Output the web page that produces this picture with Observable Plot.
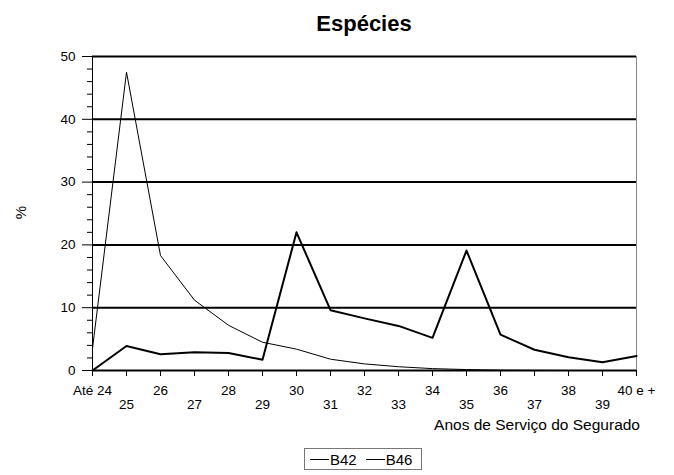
<!DOCTYPE html>
<html>
<head>
<meta charset="utf-8">
<script src="https://cdn.jsdelivr.net/npm/d3@7"></script>
<script src="https://cdn.jsdelivr.net/npm/@observablehq/plot@0.6"></script>
<style>
  html, body { margin: 0; padding: 0; background: #fff; }
  #wrap { position: relative; width: 674px; height: 475px; font-family: "Liberation Sans", Arial, sans-serif; color: #000; }
  #wrap svg { position: absolute; left: 0; top: 0; }
  .abs { position: absolute; white-space: nowrap; }
  #title { left: 0; width: 728px; top: 11px; text-align: center; font-weight: bold; font-size: 22px; }
  #ylab { left: 14px; top: 204px; font-size: 15px; transform: rotate(-90deg); transform-origin: center; }
  #xlab { right: 34px; top: 416px; font-size: 15.5px; }
  #legend { left: 304px; top: 448px; width: 118px; height: 22px; border: 1px solid #777; font-size: 15px; display: flex; align-items: center; padding: 0 5px; box-sizing: border-box; }
  .sw { display: inline-block; width: 19px; height: 0; border-top: 1.5px solid #000; margin-right: 1px; vertical-align: middle; }
  .item { display: inline-flex; align-items: center; margin-right: 9px; }
  .item:last-child { margin-right: 0; }
</style>
</head>
<body>
<div id="wrap">
  <div id="chart"></div>
  <div class="abs" id="title">Espécies</div>
  <div class="abs" id="ylab">%</div>
  <div class="abs" id="xlab">Anos de Serviço do Segurado</div>
  <div class="abs" id="legend"></div>
</div>
<script>
const categories = ["Até 24","25","26","27","28","29","30","31","32","33","34","35","36","37","38","39","40 e +"];
const b42 = [0, 3.9, 2.6, 2.9, 2.8, 1.7, 22.0, 9.6, 8.3, 7.1, 5.2, 19.1, 5.7, 3.3, 2.1, 1.3, 2.3];
const b46 = [3.5, 47.5, 18.3, 11.2, 7.2, 4.5, 3.4, 1.8, 1.05, 0.6, 0.3, 0.15, 0.05, 0.02, 0, 0, 0];
const seriesNames = ["B42", "B46"];
const yMajorTicks = [0, 10, 20, 30, 40, 50];
const yMinorTicks = [2,4,6,8,12,14,16,18,22,24,26,28,32,34,36,38,42,44,46,48];
const gridValues = [10, 20, 30, 40, 50];

const rows42 = categories.map((c, i) => ({cat: c, v: b42[i]}));
const rows46 = categories.map((c, i) => ({cat: c, v: b46[i]}));
const evenCats = categories.filter((c, i) => i % 2 === 0);
const oddCats = categories.filter((c, i) => i % 2 === 1);

const chart = Plot.plot({
  width: 674,
  height: 475,
  marginLeft: 92,
  marginRight: 38,
  marginTop: 56,
  marginBottom: 105,
  style: {fontFamily: "'Liberation Sans', Arial, sans-serif", fontSize: "13.5px", color: "#000", background: "transparent", overflow: "visible"},
  x: {type: "point", domain: categories, padding: 0, label: null},
  y: {domain: [0, 50], label: null},
  marks: [
    Plot.ruleX([categories[categories.length - 1]], {stroke: "#888", strokeWidth: 1}),
    Plot.ruleY(gridValues, {stroke: "#000", strokeWidth: 2}),
    Plot.ruleX([categories[0]], {stroke: "#000", strokeWidth: 1}),
    Plot.axisY({ticks: yMajorTicks, tickSize: 10, tickPadding: 7, label: null, fontSize: 13.5}),
    Plot.axisY({ticks: yMinorTicks, tickSize: 5, tickFormat: () => "", label: null}),
    Plot.axisX({ticks: evenCats, tickSize: 6, tickPadding: 9, label: null, fontSize: 13.5}),
    Plot.axisX({ticks: oddCats, tickSize: 6, tickPadding: 23, label: null, fontSize: 13.5}),
    Plot.line(rows46, {x: "cat", y: "v", stroke: "#000", strokeWidth: 1}),
    Plot.line(rows42, {x: "cat", y: "v", stroke: "#000", strokeWidth: 2}),
    Plot.ruleY([0], {stroke: "#000", strokeWidth: 2})
  ]
});
document.getElementById("chart").appendChild(chart);

const leg = document.getElementById("legend");
seriesNames.forEach(n => {
  const s = document.createElement("span");
  s.className = "item";
  s.innerHTML = '<span class="sw"></span>' + n;
  leg.appendChild(s);
});
</script>
</body>
</html>
